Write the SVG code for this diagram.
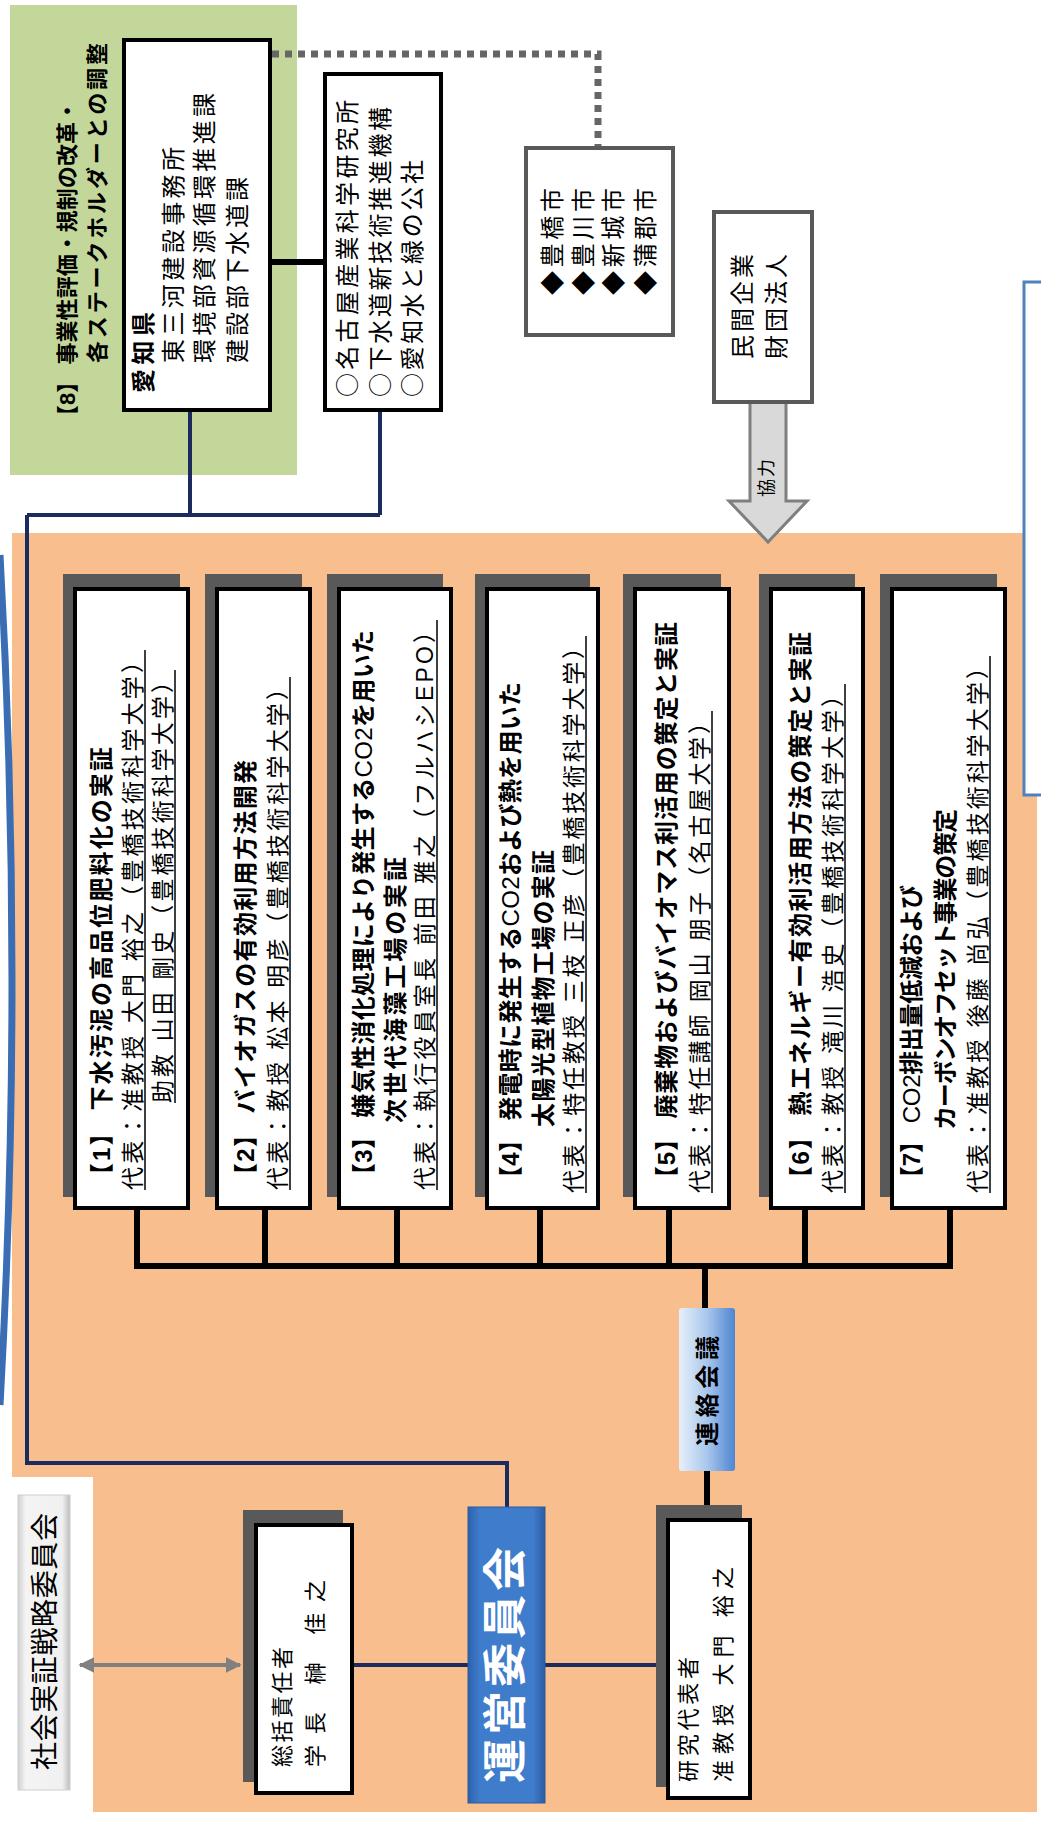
<svg xmlns="http://www.w3.org/2000/svg" width="1041" height="1821" viewBox="0 0 1041 1821">
<defs>
<style>
.t{font-family:"Liberation Sans","Noto Sans CJK JP",sans-serif;font-size:23px;fill:#000;dominant-baseline:central}
.b{font-weight:bold;font-size:24px}
.n{font-weight:normal}
.cjk{font-family:"Noto Sans CJK JP",sans-serif}
.s24{font-size:24px}
.s22{font-size:22px}
.shadow{fill:#595959}
.box{fill:#fff;stroke:#000;stroke-width:4}
.gbox{fill:#fff;stroke:#595959;stroke-width:4}
.ul{stroke:#000;stroke-width:1.5}
.nav{stroke:#1c2b5e;stroke-width:4;fill:none}
.blk{stroke:#000;stroke-width:6;fill:none}
</style>
<linearGradient id="gUnei" x1="0" y1="0" x2="1" y2="0">
<stop offset="0" stop-color="#2c62ad"/><stop offset="0.15" stop-color="#3f7ccb"/><stop offset="0.85" stop-color="#3f7ccb"/><stop offset="1" stop-color="#2a5ca3"/>
</linearGradient>
<linearGradient id="gRenraku" x1="0" y1="0" x2="1" y2="0">
<stop offset="0" stop-color="#e6f0fa"/><stop offset="0.5" stop-color="#a9c7ec"/><stop offset="1" stop-color="#4f85d0"/>
</linearGradient>
<linearGradient id="gShakai" x1="0" y1="0" x2="1" y2="0">
<stop offset="0" stop-color="#d0d0d0"/><stop offset="0.15" stop-color="#f4f4f4"/><stop offset="0.85" stop-color="#f0f0f0"/><stop offset="1" stop-color="#bdbdbd"/>
</linearGradient>
<marker id="ga" viewBox="0 0 10 10" refX="9" refY="5" markerWidth="4" markerHeight="4" orient="auto-start-reverse">
<path d="M0,0 L10,5 L0,10 z" fill="#808080"/>
</marker>
</defs>
<rect width="1041" height="1821" fill="#fff"/>

<!-- panels -->
<rect id="greenPanel" x="10" y="5" width="287" height="470" fill="#c4d79b"/>
<path id="orangePanel" d="M12,533 H1037 V1812 H93 V1477 H12 Z" fill="#f9be8d"/>
<path d="M0,555 Q24,980 0,1405" fill="none" stroke="#3b6db5" stroke-width="7"/>

<g id="connectors">
<path class="nav" d="M190,412 V515 M380,412 V515 M27,515 H380 M27,515 V1463 H507 V1507"/>
<path class="nav" d="M353,1665 H468 M545,1665 H656"/>
<path d="M272,262 H325" stroke="#000" stroke-width="6"/>
<path d="M272,54 H598 V148" fill="none" stroke="#666" stroke-width="7" stroke-dasharray="7 6"/>
<path class="blk" d="M137,1210 V1266 M265,1210 V1266 M397,1210 V1266 M540,1210 V1266 M669,1210 V1266 M805,1210 V1266 M950,1210 V1266 M134,1266 H953 M705,1266 V1308"/>
<path class="blk" d="M707,1471 V1505" stroke-width="5"/>
<line x1="80" y1="1665" x2="240" y2="1665" stroke="#808080" stroke-width="4" marker-start="url(#ga)" marker-end="url(#ga)"/>
<path id="kyoryoku" d="M750,402 H786 V501 H807 L768,542 L729,501 H750 Z" fill="#d9d9d9" stroke="#7f7f7f" stroke-width="3"/>
</g>

<g id="title8">
<text class="t b" style="font-size:22px" transform="translate(67,427) rotate(-90)" textLength="327">【8】 事業性評価・規制の改革・</text>
<text class="t b" style="font-size:22px" transform="translate(97,363) rotate(-90)" textLength="320">各ステークホルダーとの調整</text>
</g>

<g id="aichi">
<rect class="box" x="124" y="40" width="146" height="370"/>
<text class="t b" transform="translate(143,393) rotate(-90)" textLength="81">愛知県</text>
<text class="t s24" transform="translate(173,363) rotate(-90)" textLength="216">東三河建設事務所</text>
<text class="t s24" transform="translate(204,363) rotate(-90)" textLength="270">環境部資源循環推進課</text>
<text class="t s24" transform="translate(237,363) rotate(-90)" textLength="186">建設部下水道課</text>
</g>

<g id="kosha">
<rect class="box" x="325" y="74" width="116" height="336"/>
<text class="t s24 cjk" transform="translate(345,397) rotate(-90)" textLength="297">○名古屋産業科学研究所</text>
<text class="t s24 cjk" transform="translate(378,397) rotate(-90)" textLength="290">○下水道新技術推進機構</text>
<text class="t s24 cjk" transform="translate(410,397) rotate(-90)" textLength="237">○愛知水と緑の公社</text>
</g>

<g id="cities">
<rect class="gbox" x="526" y="148" width="147" height="187"/>
<text class="t s24" transform="translate(552,295) rotate(-90)" textLength="107">◆豊橋市</text>
<text class="t s24" transform="translate(583,295) rotate(-90)" textLength="107">◆豊川市</text>
<text class="t s24" transform="translate(613,295) rotate(-90)" textLength="107">◆新城市</text>
<text class="t s24" transform="translate(645,295) rotate(-90)" textLength="107">◆蒲郡市</text>
</g>

<g id="minkan">
<rect class="gbox" x="714" y="212" width="98" height="190"/>
<text class="t s24" transform="translate(742,359) rotate(-90)" textLength="105">民間企業</text>
<text class="t s24" transform="translate(776,359) rotate(-90)" textLength="105">財団法人</text>
</g>

<g id="kyoryokuLabel">
<text class="t" style="font-size:18px" transform="translate(767,497) rotate(-90)" textLength="38">協力</text>
</g>

<g id="box9">
<rect x="1024" y="282" width="30" height="513" fill="#fff" stroke="#4f81bd" stroke-width="3"/>
</g>

<g id="p1">
<rect class="shadow" x="63" y="574" width="117" height="623"/>
<rect class="box" x="75" y="589" width="113" height="619"/>
<text class="t b" transform="translate(101,1187) rotate(-90)" textLength="440">【1】 下水汚泥の高品位肥料化の実証</text>
<text class="t" transform="translate(133,1190) rotate(-90)" textLength="540">代表：准教授 大門 裕之（豊橋技術科学大学）</text>
<line class="ul" x1="145" y1="1190" x2="145" y2="650"/>
<text class="t" transform="translate(163,1103) rotate(-90)" textLength="433">助教 山田 剛史（豊橋技術科学大学）</text>
<line class="ul" x1="175" y1="1103" x2="175" y2="670"/>
</g>

<g id="p2">
<rect class="shadow" x="205" y="574" width="97" height="623"/>
<rect class="box" x="217" y="589" width="93" height="619"/>
<text class="t b" transform="translate(245,1187) rotate(-90)" textLength="427">【2】 バイオガスの有効利用方法開発</text>
<text class="t" transform="translate(278,1190) rotate(-90)" textLength="513">代表：教授 松本 明彦（豊橋技術科学大学）</text>
<line class="ul" x1="290" y1="1190" x2="290" y2="677"/>
</g>

<g id="p3">
<rect class="shadow" x="327" y="574" width="116" height="623"/>
<rect class="box" x="339" y="589" width="112" height="619"/>
<text class="t b" transform="translate(363,1187) rotate(-90)" textLength="557">【3】 嫌気性消化処理により発生する<tspan class="n">CO2</tspan>を用いた</text>
<text class="t b" transform="translate(395,1123) rotate(-90)" textLength="266">次世代海藻工場の実証</text>
<text class="t" transform="translate(425,1190) rotate(-90)" textLength="570">代表：執行役員室長 前田 雅之（フルハシEPO）</text>
<line class="ul" x1="437" y1="1190" x2="437" y2="620"/>
</g>

<g id="p4">
<rect class="shadow" x="475" y="574" width="115" height="623"/>
<rect class="box" x="487" y="589" width="111" height="619"/>
<text class="t b" transform="translate(510,1190) rotate(-90)" textLength="508">【4】 発電時に発生する<tspan class="n">CO2</tspan>および熱を用いた</text>
<text class="t b" transform="translate(543,1127) rotate(-90)" textLength="277">太陽光型植物工場の実証</text>
<text class="t" transform="translate(574,1193) rotate(-90)" textLength="557">代表：特任教授 三枝 正彦（豊橋技術科学大学）</text>
<line class="ul" x1="586" y1="1193" x2="586" y2="636"/>
</g>

<g id="p5">
<rect class="shadow" x="623" y="574" width="98" height="623"/>
<rect class="box" x="635" y="589" width="94" height="619"/>
<text class="t b" transform="translate(666,1190) rotate(-90)" textLength="568">【5】 廃棄物およびバイオマス利活用の策定と実証</text>
<text class="t" transform="translate(700,1193) rotate(-90)" textLength="482">代表：特任講師 岡山 朋子（名古屋大学）</text>
<line class="ul" x1="712" y1="1193" x2="712" y2="711"/>
</g>

<g id="p6">
<rect class="shadow" x="759" y="574" width="96" height="623"/>
<rect class="box" x="771" y="589" width="92" height="619"/>
<text class="t b" transform="translate(800,1190) rotate(-90)" textLength="558">【6】 熱エネルギー有効利活用方法の策定と実証</text>
<text class="t" transform="translate(833,1193) rotate(-90)" textLength="509">代表：教授 滝川 浩史（豊橋技術科学大学）</text>
<line class="ul" x1="845" y1="1193" x2="845" y2="684"/>
</g>

<g id="p7">
<rect class="shadow" x="880" y="574" width="117" height="623"/>
<rect class="box" x="892" y="589" width="113" height="619"/>
<text class="t b" transform="translate(911,1190) rotate(-90)" textLength="305">【7】 <tspan class="n">CO2</tspan>排出量低減および</text>
<text class="t b" transform="translate(945,1130) rotate(-90)" textLength="321">カーボンオフセット事業の策定</text>
<text class="t" transform="translate(978,1193) rotate(-90)" textLength="537">代表：准教授 後藤 尚弘（豊橋技術科学大学）</text>
<line class="ul" x1="990" y1="1193" x2="990" y2="656"/>
</g>

<g id="renraku">
<rect x="679" y="1308" width="56" height="163" rx="3" fill="url(#gRenraku)"/>
<text class="t b" transform="translate(707,1446) rotate(-90)" textLength="110">連絡会議</text>
</g>

<g id="unei">
<rect x="468" y="1507" width="77" height="296" fill="url(#gUnei)" stroke="#2a5a9e" stroke-width="1"/>
<text class="t b" style="font-size:44px;fill:#fff" transform="translate(505,1783) rotate(-90)" textLength="236">運営委員会</text>
</g>

<g id="soukatsu">
<rect class="shadow" x="243" y="1510" width="100" height="272"/>
<rect class="box" x="256" y="1525" width="96" height="268"/>
<text class="t s22" transform="translate(282,1767) rotate(-90)" textLength="120">総括責任者</text>
<text class="t s22" transform="translate(315,1767) rotate(-90)" textLength="187">学長 榊 佳之</text>
</g>

<g id="kenkyu">
<rect class="shadow" x="656" y="1505" width="86" height="282"/>
<rect class="box" x="668" y="1520" width="82" height="278"/>
<text class="t s22" transform="translate(688,1782) rotate(-90)" textLength="125">研究代表者</text>
<text class="t s22" transform="translate(723,1782) rotate(-90)" textLength="215">准教授 大門 裕之</text>
</g>

<g id="shakai">
<rect x="18" y="1495" width="52" height="295" fill="url(#gShakai)" stroke="#cfcfcf" stroke-width="1"/>
<text class="t" style="font-size:28px" transform="translate(45,1770) rotate(-90)" textLength="257">社会実証戦略委員会</text>
</g>
</svg>
